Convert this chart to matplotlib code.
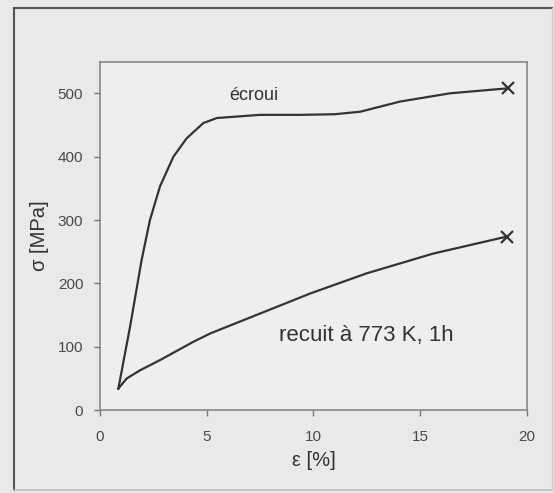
import numpy as np
import matplotlib
matplotlib.use("Agg")
import matplotlib.pyplot as plt
from matplotlib.lines import Line2D

plt.rcParams['font.family'] = ['Liberation Sans', 'DejaVu Sans']

# stress-strain curves, strain in %, stress in MPa
eps_ecroui = [0.86, 1.41, 1.95, 2.34, 2.81, 3.44, 4.06, 4.84, 5.47, 7.5, 9.38, 11.0, 12.2, 14.06, 16.4, 19.14]
sig_ecroui = [34, 132, 237, 300, 353, 400, 429, 453, 461, 466, 466, 467, 471, 487, 500, 508]

eps_recuit = [0.86, 1.25, 1.88, 2.81, 4.38, 5.16, 6.72, 8.28, 9.84, 12.5, 15.6, 19.07]
sig_recuit = [34, 50, 63, 79, 108, 121, 142, 163, 184, 216, 247, 274]

xticks = [0, 5, 10, 15, 20]
yticks = [0, 100, 200, 300, 400, 500]

fig = plt.figure(figsize=(5.54, 4.93), dpi=100, facecolor='#e9e9e9')
ax = fig.add_axes([0.1805, 0.168, 0.7705, 0.707])
ax.set_facecolor('#eeeeee')

line_col = '#333333'
ax.plot(eps_ecroui, sig_ecroui, color=line_col, lw=1.6)
ax.plot(eps_recuit, sig_recuit, color=line_col, lw=1.6)
# rupture points
ax.plot(eps_ecroui[-1], sig_ecroui[-1], 'x', color=line_col, ms=9, mew=1.6)
ax.plot(eps_recuit[-1], sig_recuit[-1], 'x', color=line_col, ms=9, mew=1.6)

ax.text(7.2, 496, 'écroui', fontsize=13, color='#333333', ha='center', va='center')
ax.text(12.47, 118, 'recuit à 773 K, 1h', fontsize=16, color='#333333', ha='center', va='center')

ax.set_xlim(0, 20)
ax.set_ylim(0, 550)
ax.set_xticks(xticks)
ax.set_yticks(yticks)
ax.tick_params(direction='out', length=4, width=1, color='#777777',
               labelsize=11, labelcolor='#4a4a4a')
ax.tick_params(axis='x', pad=10)
ax.tick_params(axis='y', pad=8)
for s in ax.spines.values():
    s.set_color('#888888')
    s.set_linewidth(1.2)

ax.set_xlabel('ε [%]', fontsize=14.5, color='#333333', labelpad=5)
ax.set_ylabel('σ [MPa]', fontsize=14.5, color='#333333', labelpad=6)

# outer frame: dark on top and left, faint on the right and bottom
fx = [14 / 554, 552 / 554]
fy = [1 - 490 / 493, 1 - 8 / 493]
fig.add_artist(Line2D([fx[0], fx[1]], [fy[1], fy[1]], transform=fig.transFigure, color='#555555', lw=1.5))
fig.add_artist(Line2D([fx[0], fx[0]], [fy[0], fy[1]], transform=fig.transFigure, color='#555555', lw=1.5))
fig.add_artist(Line2D([fx[0], fx[1]], [fy[0], fy[0]], transform=fig.transFigure, color='#bbbbbb', lw=1.2))
fig.add_artist(Line2D([fx[1], fx[1]], [fy[0], fy[1]], transform=fig.transFigure, color='#cccccc', lw=1.0))

fig.savefig('out.png', dpi=100, facecolor=fig.get_facecolor())
